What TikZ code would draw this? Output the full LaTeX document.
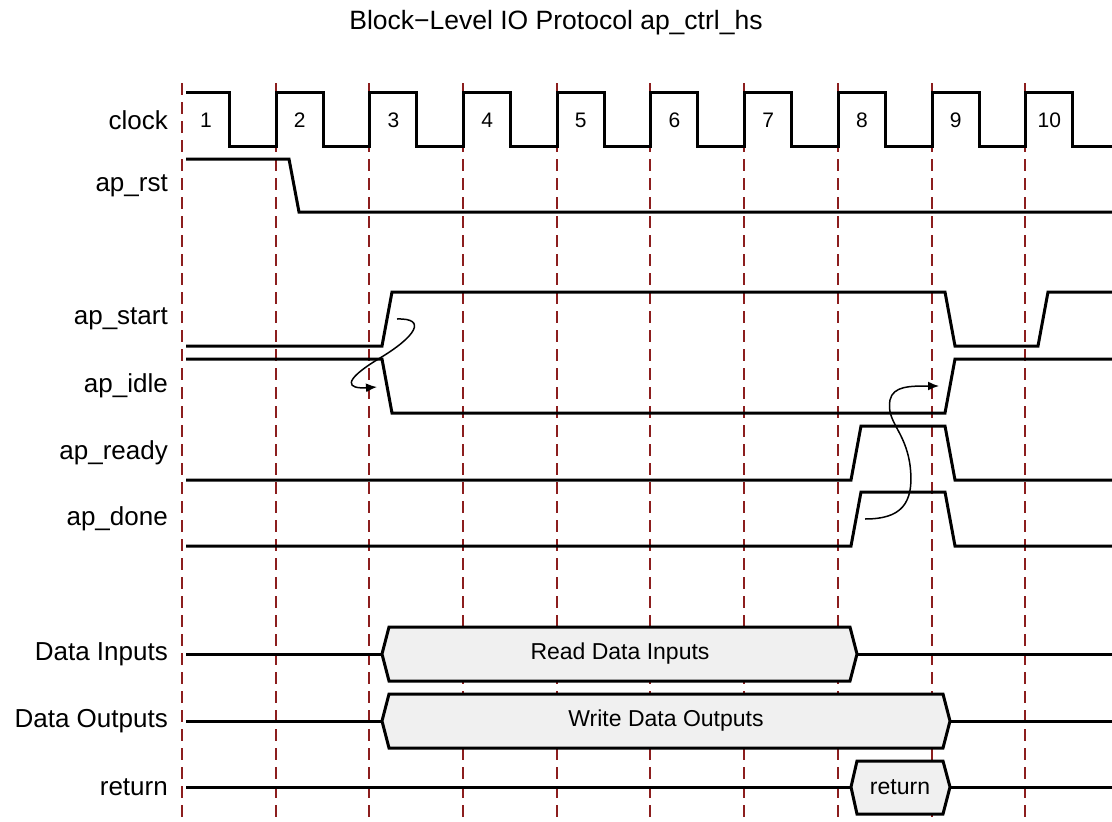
\documentclass[tikz,border=0pt]{standalone}
\usepackage{fontspec}
\setmainfont{Liberation Sans}
\usetikzlibrary{arrows.meta}
\definecolor{gridred}{RGB}{140,30,30}
\definecolor{busfill}{RGB}{240,240,240}
\begin{document}
\begin{tikzpicture}[
    x=1pt, y=-1pt,
    sig/.style={line width=3pt, line join=miter},
    bus/.style={sig, fill=busfill},
    grid/.style={gridred, line width=1.8pt, dash pattern=on 12pt off 7pt},
    lbl/.style={anchor=east, inner sep=0pt, font=\fontsize{26}{31}\selectfont},
    num/.style={inner sep=0pt, font=\fontsize{21}{25}\selectfont},
    bustext/.style={inner sep=0pt, font=\fontsize{23}{28}\selectfont},
    cause/.style={line width=1.5pt, -{Latex[length=11pt,width=9pt]}}
]
\useasboundingbox (0,0) rectangle (1112,822);

\node[inner sep=0pt, font=\fontsize{26.5}{32}\selectfont] (title) at (556,23) {Block\textminus Level IO Protocol ap\_ctrl\_hs};

\foreach \i in {1,...,10} {
    \draw[grid] ({round(182+93.7*(\i-1))},83) -- ({round(182+93.7*(\i-1))},822);
    \node[num] (n\i) at ({206+93.7*(\i-1)},120) {\i};
}

\node[lbl] (lclock) at (168,120) {clock};
\node[lbl] (lrst) at (168,186) {ap\_rst};
\node[lbl] (lstart) at (168,319) {ap\_start};
\node[lbl] (lidle) at (168,386) {ap\_idle};
\node[lbl] (lready) at (168,453) {ap\_ready};
\node[lbl] (ldone) at (168,519) {ap\_done};
\node[lbl] (lin) at (168,654) {Data Inputs};
\node[lbl] (lout) at (168,721) {Data Outputs};
\node[lbl] (lret) at (168,787) {return};

\draw[sig] (186,92) -- (229,92) -- (229,146)
    \foreach \i in {2,...,10} { -- ({round(182+93.7*(\i-1))},146) -- ({round(182+93.7*(\i-1))},92)
        -- ({round(229+93.7*(\i-1))},92) -- ({round(229+93.7*(\i-1))},146) } -- (1112,146);
\draw[sig] (186,159) -- (289,159) -- (299,212) -- (1112,212);
\draw[sig] (186,346) -- (382,346) -- (392,292) -- (945,292) -- (955,346) -- (1038,346) -- (1048,292) -- (1112,292);
\draw[sig] (186,359) -- (382,359) -- (392,413) -- (945,413) -- (955,359) -- (1112,359);
\draw[sig] (186,480) -- (851,480) -- (861,426) -- (945,426) -- (955,480) -- (1112,480);
\draw[sig] (186,546) -- (851,546) -- (861,492) -- (945,492) -- (955,546) -- (1112,546);

\draw[sig] (186,654) -- (382,654);
\draw[bus] (382,654) -- (389,627) -- (850,627) -- (857,654) -- (850,681) -- (389,681) -- cycle;
\draw[sig] (857,654) -- (1112,654);
\node[bustext] (rd) at (620,654) {Read Data Inputs};

\draw[sig] (186,721) -- (382,721);
\draw[bus] (382,721) -- (389,694) -- (943,694) -- (950,721) -- (943,748) -- (389,748) -- cycle;
\draw[sig] (950,721) -- (1112,721);
\node[bustext] (wr) at (666,721) {Write Data Outputs};

\draw[sig] (186,787) -- (851,787);
\draw[bus] (851,787) -- (857,761) -- (943,761) -- (950,787) -- (943,814) -- (857,814) -- cycle;
\draw[sig] (950,787) -- (1112,787);
\node[bustext] (ret) at (900,787) {return};

\coordinate (startup) at (397,319);
\coordinate (idledown) at (377,387);
\coordinate (doneup) at (865,519);
\coordinate (idleup) at (939,386);

\draw[cause] (startup) .. controls (428,318) and (415,337) .. (380,358)
    .. controls (340,382) and (348,389) .. (idledown);
\draw[cause] (doneup) .. controls (900,519) and (915,505) .. (910,465)
    .. controls (905,430) and (886,422) .. (890,400)
    .. controls (893,386) and (910,386) .. (idleup);

\end{tikzpicture}
\end{document}
